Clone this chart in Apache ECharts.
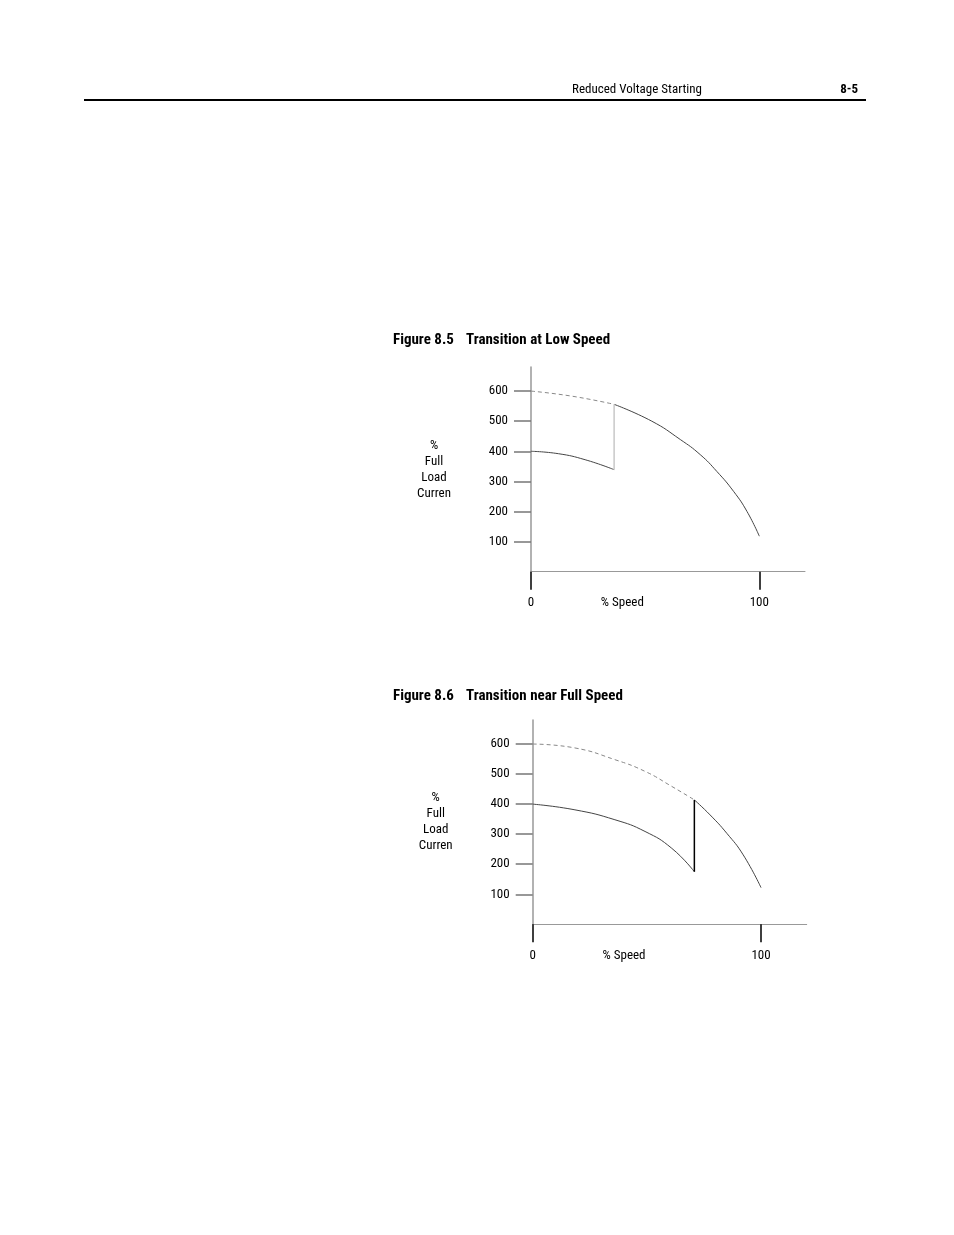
<!DOCTYPE html>
<html>
<head>
<meta charset="utf-8">
<script src="https://cdn.jsdelivr.net/npm/echarts@6/dist/echarts.min.js"></script>
<style>
  html, body { margin: 0; padding: 0; background: #fff; }
  #page { width: 954px; height: 1235px; }
</style>
</head>
<body>
<div id="page"></div>
<script>
// y ticks / labels (% full load current)
const yTicks = [100, 200, 300, 400, 500, 600];
// x ticks / labels (% speed)
const xTicks = [0, 100];
const speedNameAt = 40;

// Figure 8.5 - transition at low speed
const f5UpperDashSpeed = [0, 18, 36.4];
const f5UpperDashValue = [600, 583, 556];
const f5UpperSpeed = [36.4, 52.9, 65.4, 74.1, 81.4, 88.7, 94.6, 100];
const f5UpperValue = [556, 500, 439, 389, 333, 267, 200, 118];
const f5LowerSpeed = [0, 12, 23.7, 36.4];
const f5LowerValue = [400, 392, 372, 339];
const f5JumpSpeed = [36.4, 36.4];
const f5JumpValue = [556, 339];

// Figure 8.6 - transition near full speed
const f6UpperDashSpeed = [0, 18.5, 36, 49.2, 60.9, 70.8];
const f6UpperDashValue = [600, 587, 548, 509, 459, 414];
const f6UpperSpeed = [70.8, 77.7, 85, 92.2, 100];
const f6UpperValue = [414, 364, 303, 231, 122];
const f6LowerSpeed = [0, 18.5, 36, 49.2, 60.9, 70.8];
const f6LowerValue = [400, 381, 348, 309, 253, 175];
const f6JumpSpeed = [70.8, 70.8];
const f6JumpValue = [414, 175];

const FONT = "'Liberation Sans Narrow', 'Roboto Condensed', 'DejaVu Sans Condensed', sans-serif";

const pairs = (xs, ys) => xs.map((x, i) => [x, ys[i]]);

const chart = echarts.init(document.getElementById('page'));

const xAxisFor = (gridIndex) => ({
  type: 'value',
  gridIndex: gridIndex,
  min: 0,
  max: 120,
  splitLine: { show: false },
  axisLine: { show: true, lineStyle: { color: '#999', width: 1 } },
  axisTick: { show: true, customValues: xTicks, length: 18, lineStyle: { color: '#000', width: 1.5 } },
  axisLabel: {
    customValues: xTicks.concat([speedNameAt]),
    margin: 25,
    fontSize: 13,
    color: '#000',
    fontFamily: FONT,
    formatter: v => (v === speedNameAt ? '% Speed' : String(v))
  }
});

const yAxisFor = (gridIndex) => ({
  type: 'value',
  gridIndex: gridIndex,
  min: 0,
  max: 680,
  splitLine: { show: false },
  axisLine: { show: true, lineStyle: { color: '#999', width: 1.5 } },
  axisTick: { show: true, customValues: yTicks, length: 17, lineStyle: { color: '#777', width: 1.5 } },
  axisLabel: { customValues: yTicks, margin: 23, fontSize: 13, color: '#000', fontFamily: FONT },
  name: '%\nFull\nLoad\nCurren',
  nameLocation: 'middle',
  nameRotate: 0,
  nameGap: 97,
  nameTextStyle: { align: 'center', fontSize: 13, lineHeight: 16, color: '#000', fontFamily: FONT, padding: [0, 0, 16, 0] }
});

const curve = (idx, data, opts) => Object.assign({
  type: 'line',
  xAxisIndex: idx,
  yAxisIndex: idx,
  data: data,
  showSymbol: false,
  smooth: 0.5,
  silent: true,
  lineStyle: { color: '#444', width: 1 }
}, opts);

const dashStyle = { color: '#888', width: 1, type: [4, 3] };
const capStyle = { fontSize: 15, fontWeight: 'bold', color: '#000', fontFamily: FONT };

chart.setOption({
  animation: false,
  textStyle: { fontFamily: FONT },
  title: [
    { text: 'Reduced Voltage Starting', left: 567, top: 78, textStyle: { fontSize: 13, fontWeight: 'normal', color: '#000', fontFamily: FONT } },
    { text: '8-5', right: 91, top: 78, textStyle: { fontSize: 13, fontWeight: 'bold', color: '#000', fontFamily: FONT } },
    { text: 'Figure 8.5', left: 388, top: 328, textStyle: capStyle },
    { text: 'Transition at Low Speed', left: 461, top: 328, textStyle: capStyle },
    { text: 'Figure 8.6', left: 388, top: 684, textStyle: capStyle },
    { text: 'Transition near Full Speed', left: 461, top: 684, textStyle: capStyle }
  ],
  graphic: [
    { type: 'line', shape: { x1: 84, y1: 100, x2: 866, y2: 100 }, style: { stroke: '#000', lineWidth: 2 } }
  ],
  grid: [
    { left: 531, top: 367, width: 274, height: 204.7 },
    { left: 532.7, top: 720, width: 274, height: 204.3 }
  ],
  xAxis: [xAxisFor(0), xAxisFor(1)],
  yAxis: [yAxisFor(0), yAxisFor(1)],
  series: [
    curve(0, pairs(f5UpperDashSpeed, f5UpperDashValue), { lineStyle: dashStyle }),
    curve(0, pairs(f5UpperSpeed, f5UpperValue)),
    curve(0, pairs(f5LowerSpeed, f5LowerValue)),
    curve(0, pairs(f5JumpSpeed, f5JumpValue), { smooth: false, lineStyle: { color: '#c8c8c8', width: 1.5 } }),
    curve(1, pairs(f6UpperDashSpeed, f6UpperDashValue), { lineStyle: dashStyle }),
    curve(1, pairs(f6UpperSpeed, f6UpperValue)),
    curve(1, pairs(f6LowerSpeed, f6LowerValue)),
    curve(1, pairs(f6JumpSpeed, f6JumpValue), { smooth: false, lineStyle: { color: '#000', width: 1.5 } })
  ]
});
</script>
</body>
</html>
